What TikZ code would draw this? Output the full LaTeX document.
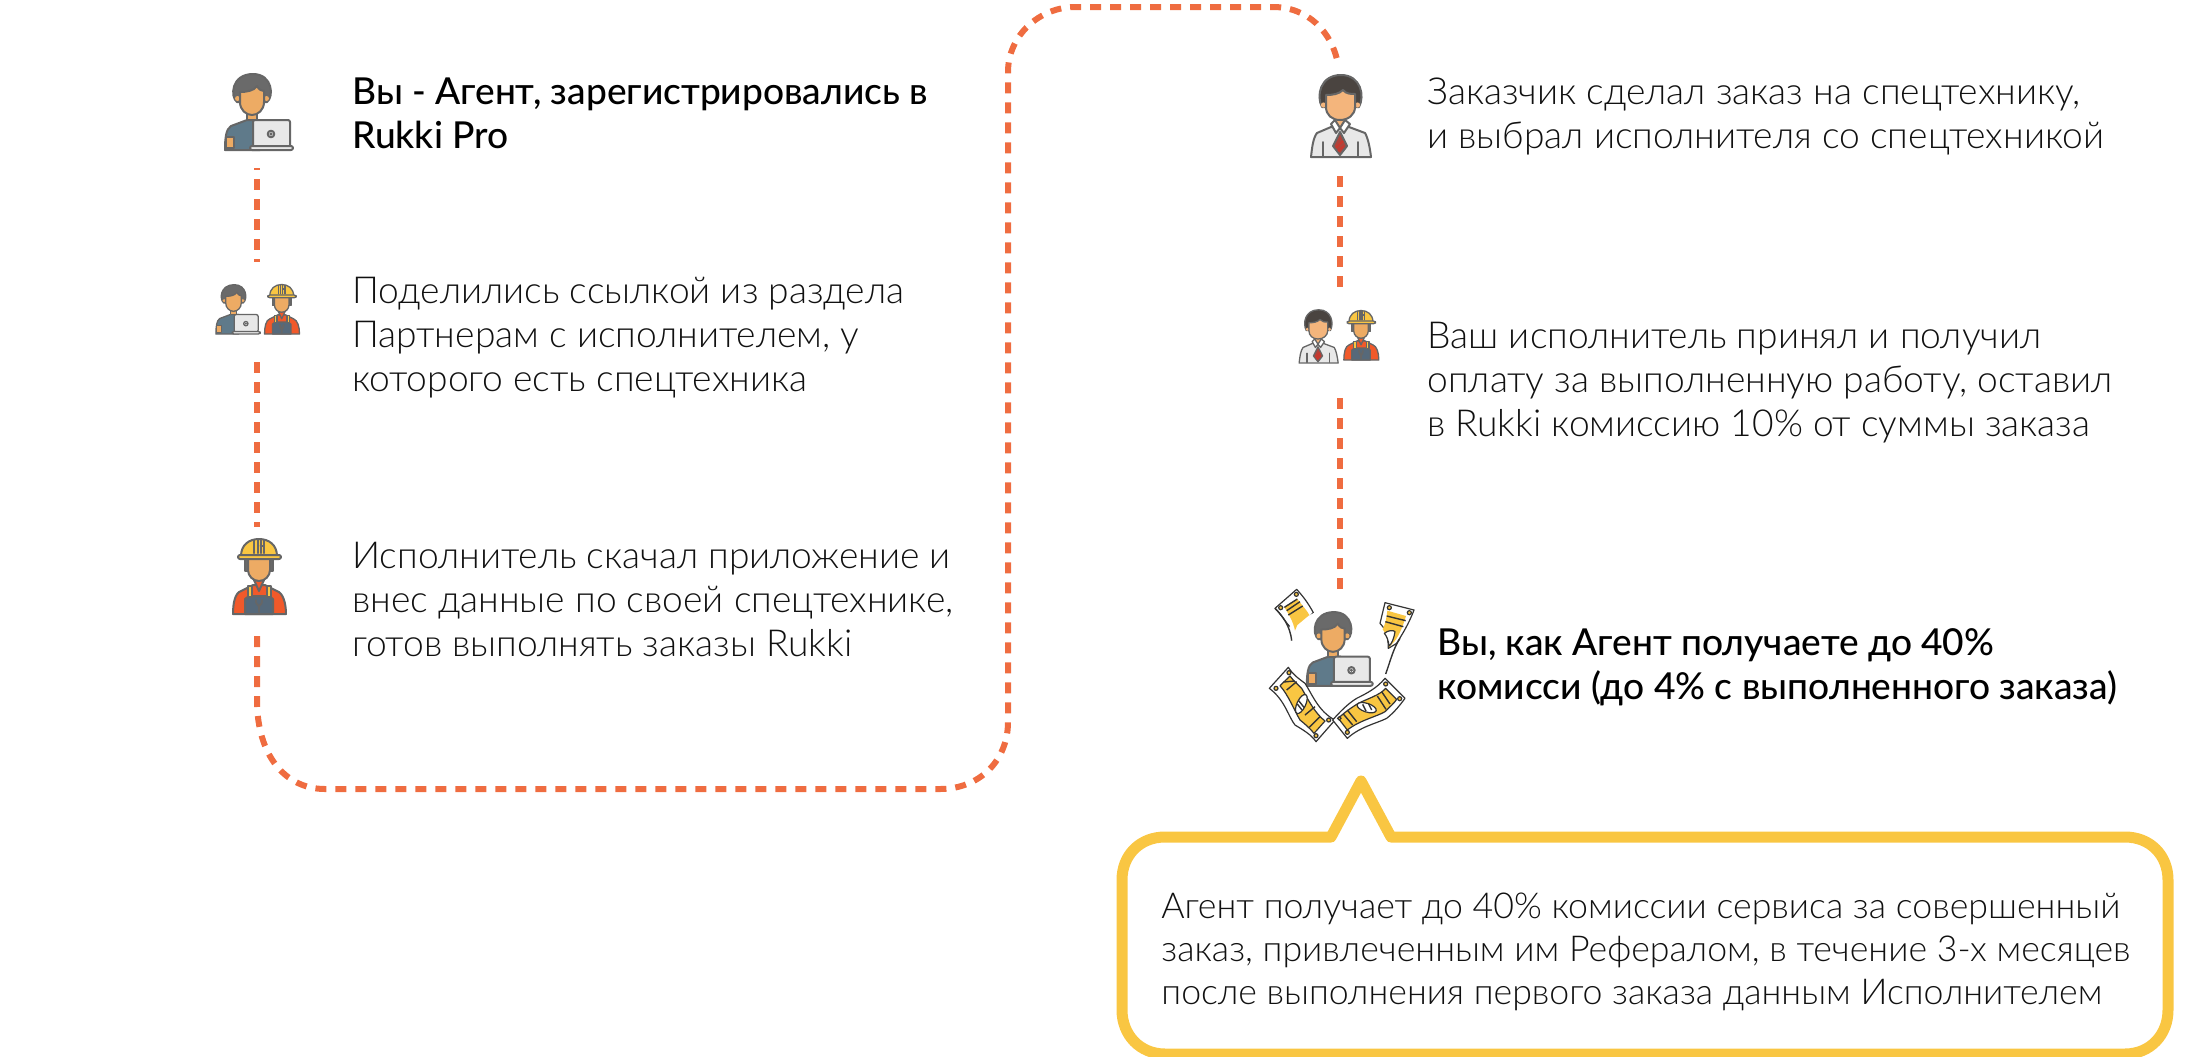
\documentclass[tikz,border=0pt]{standalone}
\usepackage{fontspec}
\setmainfont{Lato Light}
\newfontfamily\boldfam{Lato Medium}
\definecolor{dashc}{HTML}{EF6C40}
\definecolor{bub}{HTML}{F9C642}
\definecolor{ol}{HTML}{666666}
\definecolor{skin}{HTML}{EDAB64}
\definecolor{skinb}{HTML}{F4B57C}
\definecolor{slate}{HTML}{5F7A8A}
\definecolor{hairc}{HTML}{6A6A6A}
\definecolor{hairb}{HTML}{4A4440}
\definecolor{redor}{HTML}{F1592A}
\definecolor{ovr}{HTML}{56697A}
\definecolor{lap}{HTML}{E8E8E8}
\definecolor{txt}{HTML}{111111}
\definecolor{ink}{HTML}{333333}
\definecolor{tie}{HTML}{C8382E}
\tikzset{
  ic/.style={line width=1pt,draw=ol,line join=round,line cap=round},
  dashline/.style={draw=dashc,line width=3pt,dash pattern=on 5.5pt off 4.5pt},
  txtn/.style={anchor=north west,inner sep=0pt,align=left,text=txt,font=\fontsize{18.6}{22}\selectfont},
  txtb/.style={anchor=north west,inner sep=0pt,align=left,text=black,font=\boldfam\fontsize{18.55}{22}\selectfont},
  txts/.style={anchor=north west,inner sep=0pt,align=left,text=txt,font=\fontsize{17.85}{21.4}\selectfont},
  billo/.style={fill=white,draw=ink,line width=0.6pt,line join=round},
  billy/.style={fill=bub,draw=ink,line width=0.6pt,line join=round},
  billl/.style={draw=ink,line width=0.7pt},
  hole/.style={fill=bub,draw=ink,line width=0.6pt},
  agent/.pic={
    \path[ic,fill=slate] (-27,57) .. controls (-27,45) and (-26,36) .. (-21,33) -- (-5,27) -- (8,27) -- (8,57) -- cycle;
    \path[ic,fill=skin] (-26,44) -- (-18,44) -- (-18,55) -- (-26,55) -- cycle;
    \path[ic,fill=skin] (-5,20) -- (-5,27) -- (5,27) -- (5,20) -- cycle;
    \path[ic,fill=hairc] (-15,9) .. controls (-22,4) and (-21,-19) .. (1,-19) .. controls (21,-19) and (22,4) .. (15,9) -- cycle;
    \fill[skin] (-14.5,5.5) circle (2.5) (14.5,5.5) circle (2.5);
    \path[ic,fill=skin] (-12,-1) .. controls (-6,-1) and (2,-2) .. (5,-7) .. controls (7,-3) and (10,-2) .. (12,-2) -- (12,9) .. controls (12,17) and (6,22) .. (0,22) .. controls (-6,22) and (-12,17) .. (-12,9) -- cycle;
    \path[ic,fill=lap,rounded corners=1pt] (1,27) rectangle (38,54);
    \path[ic,fill=white] (19,41) circle (3.3);
    \fill[ol] (19,41) circle (1.8);
    \path[ic,fill=lap,rounded corners=1pt] (-2,53) rectangle (41,57);
  },
  worker/.pic={
    \path[ic,fill=redor] (-26,47) .. controls (-26,36) and (-24,26) .. (-18,24) -- (-6,18) -- (6,18) -- (18,24) .. controls (24,26) and (27,36) .. (27,47) -- cycle;
    \path[ic,fill=ovr] (-14,47) -- (-14,32) -- (-10,29) -- (10,29) -- (14,32) -- (14,47) -- cycle;
    \path[ic,fill=bub] (-11,19) rectangle (-7,30) (8,19) rectangle (12,30);
    \path[ic,fill=redor] (-5,13) -- (0,24) -- (5,13) -- cycle;
    \draw[ol,line width=0.9pt,line cap=round] (-3,33) .. controls (-4,37) and (0,38) .. (0,40) -- (0,45) (3,33) .. controls (4,37) and (0,38) .. (0,40);
    \path[ic,fill=hairc] (-14,-8) rectangle (-11,4) (11,-8) rectangle (14,4);
    \path[ic,fill=skin] (-11,-10) -- (11,-10) -- (11,3) .. controls (11,9) and (6,14) .. (0,14) .. controls (-6,14) and (-11,9) .. (-11,3) -- cycle;
    \path[ic,fill=bub] (-18,-11) .. controls (-18,-22) and (-10,-28) .. (0,-28) .. controls (10,-28) and (18,-22) .. (18,-11) -- cycle;
    \draw[ic] (-5,-27) -- (-5,-14) (-1.5,-28) -- (-1.5,-14) (1.5,-21) -- (5,-21) (1.5,-28) -- (1.5,-14) (5,-27) -- (5,-14);
    \path[ic,fill=bub,rounded corners=1pt] (-21,-12) rectangle (22,-8);
  },
  client/.pic={
    \path[ic,fill=lap] (-29,57) .. controls (-28,48) and (-27,38) .. (-23,33) -- (-9,27) -- (9,27) -- (25,33) .. controls (28,38) and (30,48) .. (31,57) -- cycle;
    \draw[ic] (-17,42) -- (-17,56) (18,42) -- (18,56);
    \path[ic,fill=skinb] (-5,18) -- (-5,27) -- (5,27) -- (5,18) -- cycle;
    \path[ic,fill=white] (-9,24) -- (-4,33) -- (0,28) -- (4,33) -- (10,24) -- (5,20) -- (0,28) -- (-5,20) -- cycle;
    \path[ic,fill=tie!75!ol] (0,32) -- (-7,46) -- (0,55) -- (7,46) -- cycle;
    \draw[tie,line width=1pt] (-4,48) -- (3,41) (-2,51) -- (4,46);
    \path[ic,fill=hairb] (-18,7) .. controls (-24,-4) and (-20,-25) .. (1,-25) .. controls (21,-25) and (25,-4) .. (19,7) -- cycle;
    \fill[skinb] (-16.5,5) circle (2.6) (17.5,5) circle (2.6);
    \path[ic,fill=skinb] (-14,-5) .. controls (-7,-5) and (-1,-6) .. (3,-10) .. controls (6,-6) and (11,-6) .. (15,-6) -- (15,7) .. controls (15,15) and (8,20) .. (0,20) .. controls (-8,20) and (-14,15) .. (-14,7) -- cycle;
  }
}
\begin{document}
\begin{tikzpicture}[x=0.5pt,y=-0.5pt]
\useasboundingbox (0,0) rectangle (2208,1056);

% connector anchors
\coordinate (a1) at (257,168);
\coordinate (a2) at (257,262);
\coordinate (b1) at (257,362);
\coordinate (b2) at (257,527);
\coordinate (c1) at (257,636);
\coordinate (c2) at (1338,64);
\coordinate (d1) at (1340,176);
\coordinate (d2) at (1340,288);
\coordinate (e1) at (1340,398);
\coordinate (e2) at (1340,592);
\coordinate (t1) at (257,700);

\draw[dashline,dash phase=4.5pt] (a1) -- (a2);
\draw[dashline] (b1) -- (b2);
\draw[dashline] (c1) -- (t1) .. controls (257,755) and (285,789) .. (325,789)
  -- (940,789) .. controls (980,789) and (1008,760) .. (1008,722)
  -- (1008,72) .. controls (1008,35) and (1040,7) .. (1075,7)
  -- (1273,7) .. controls (1308,7) and (1332,32) .. (c2);
\draw[dashline] (d1) -- (d2);
\draw[dashline] (e1) -- (e2);

% icons
\pic (ag1) at (252,93) {agent};
\begin{scope}[ic/.style={line width=0.65pt,draw=ol,line join=round,line cap=round}]
\pic[scale=.65] (ag2) at (233.5,297) {agent};
\pic[scale=.66] (wk2) at (281.7,303) {worker};
\pic[scale=.65] (cl2) at (1318,326) {client};
\pic[scale=.66] (wk3) at (1361,329) {worker};
\end{scope}
\pic (wk1) at (259,567) {worker};
\pic (cl1) at (1340,100) {client};
\pic[scale=.97] (ag3) at (1333,630.5) {agent};

% money (coordinates of a 3x crop)
\begin{scope}[shift={(1240,570)},x=0.16667pt,y=-0.16667pt]
 % bottom-left
 \path[billo] (145,292) -- (88,355) .. controls (135,390) and (145,440) .. (165,465) .. controls (190,480) and (215,495) .. (228,515) -- (285,450) .. controls (235,425) and (215,370) .. (195,340) .. controls (175,325) and (160,315) .. (145,292) -- cycle;
 \path[billy] (150,318) -- (120,347) .. controls (145,375) and (165,425) .. (180,450) .. controls (195,462) and (210,475) .. (222,490) -- (255,453) .. controls (225,430) and (205,390) .. (185,355) .. controls (172,342) and (160,332) .. (150,318) -- cycle;
 \draw[billl] (131,336) -- (163,333) (140,360) -- (170,335) (195,435) -- (225,410) (208,472) -- (240,440);
 \path[billy,fill=white,rotate around={65:(184,402)}] (184,402) ellipse (31 and 13);
 \draw[billl] (176,392) -- (192,412) (172,402) -- (186,420);
 \path[hole] (147,308) circle (6) (108,355) circle (6) (266,450) circle (6) (228,497) circle (6);
 % bottom-right
 \path[billo] (278,450) -- (322,505) .. controls (360,470) and (410,460) .. (440,445) .. controls (465,425) and (480,405) .. (495,385) -- (435,325) .. controls (410,355) and (380,370) .. (350,385) .. controls (325,400) and (300,425) .. (278,450) -- cycle;
 \path[billy] (295,445) -- (322,480) .. controls (360,450) and (410,440) .. (435,425) .. controls (450,410) and (462,400) .. (470,388) -- (437,355) .. controls (420,375) and (385,385) .. (355,400) .. controls (335,412) and (312,428) .. (295,445) -- cycle;
 \draw[billl] (310,432) -- (338,465) (322,420) -- (350,455) (412,378) -- (438,418) (425,365) -- (450,402);
 \path[billy,fill=white,rotate around={-18:(380,413)}] (380,413) ellipse (30 and 13);
 \draw[billl] (368,403) -- (378,423) (385,400) -- (395,420);
 \path[hole] (437,342) circle (6) (479,386) circle (6) (322,487) circle (6) (298,445) circle (5);
 % top-left
 \path[billo] (105,115) -- (170,58) .. controls (190,80) and (205,100) .. (220,128) -- (165,185) .. controls (140,165) and (130,140) .. (105,115) -- cycle;
 \path[draw=white,fill=white] (222,130) -- (170,185) -- (155,215) -- (150,170) -- cycle;
 \draw[billl] (105,115) .. controls (125,135) and (150,165) .. (155,212);
 \path[billy,draw=none] (133,112) -- (172,87) .. controls (185,105) and (200,120) .. (208,135) -- (172,165) -- (165,182) .. controls (160,155) and (145,130) .. (133,112) -- cycle;
 \draw[billl] (133,112) -- (172,87) (140,122) -- (180,95) (145,135) -- (188,108);
 \path[hole] (122,113) circle (6) (169,73) circle (6);
 % top-right
 \path[billo] (435,98) -- (522,120) .. controls (505,165) and (485,195) .. (470,220) -- (445,235) .. controls (445,190) and (430,170) .. (420,160) -- cycle;
 \draw[billl] (480,205) .. controls (460,235) and (452,270) .. (437,312);
 \path[billy,draw=none] (442,122) -- (498,138) .. controls (490,165) and (478,195) .. (465,212) -- (447,232) .. controls (445,205) and (437,190) .. (428,178) .. controls (437,160) and (440,140) .. (442,122) -- cycle;
 \draw[billl] (440,138) -- (497,152) (436,155) -- (490,170);
 \path[billy,fill=white] (433,190) .. controls (445,180) and (460,180) .. (465,185) .. controls (462,205) and (455,222) .. (447,228) .. controls (445,210) and (440,198) .. (433,190) -- cycle;
 \path[hole] (448,113) circle (6) (508,128) circle (6);
\end{scope}

% bubble
\draw[bub,line width=5.5pt,line join=round]
 (1331,837) -- (1361,781) -- (1391,837) -- (2125,837) .. controls (2150,837) and (2168,855) .. (2168,880)
 -- (2168,1010) .. controls (2168,1035) and (2150,1054) .. (2125,1054)
 -- (1165,1054) .. controls (1140,1054) and (1122,1035) .. (1122,1010)
 -- (1122,880) .. controls (1122,855) and (1140,837) .. (1165,837) -- cycle;

% texts
\node[txtb] (n1) at (352,73.5) {\strut Вы - Агент, зарегистрировались в\\Rukki Pro};
\node[txtn] (n2) at (352,272) {\strut Поделились ссылкой из раздела\\Партнерам с исполнителем, у\\которого есть спецтехника};
\node[txtn] (n3) at (352,537) {\strut Исполнитель скачал приложение и\\внес данные по своей спецтехнике,\\готов выполнять заказы Rukki};
\node[txtn] (n4) at (1427,73.5) {\strut Заказчик сделал заказ на спецтехнику,\\и выбрал исполнителя со спецтехникой};
\node[txtn] (n5) at (1427,317) {\strut Ваш исполнитель принял и получил\\оплату за выполненную работу, оставил\\в Rukki комиссию 10\% от суммы заказа};
\node[txtb] (n6) at (1437,624) {\strut Вы, как Агент получаете до 40\%\\комисси (до 4\% с выполненного заказа)};
\node[txts] (n7) at (1161,888.5) {\strut Агент получает до 40\% комиссии сервиса за совершенный\\заказ, привлеченным им Рефералом, в течение 3-х месяцев\\после выполнения первого заказа данным Исполнителем};
\end{tikzpicture}
\end{document}
